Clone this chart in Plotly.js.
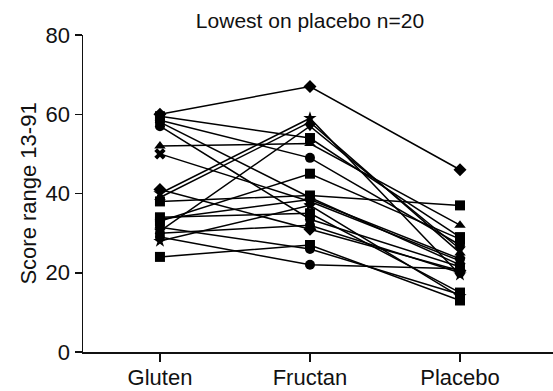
<!DOCTYPE html>
<html>
<head>
<meta charset="utf-8">
<script src="https://cdn.plot.ly/plotly-3.0.1.min.js"></script>
<style>html,body{margin:0;padding:0;background:#fff;}#chart{width:553px;height:391px;}</style>
</head>
<body>
<div id="chart"></div>
<script>
var categories = ["Gluten", "Fructan", "Placebo"];
var gluten  = [60, 59.5, 58.5, 58, 57, 52, 50, 41, 40, 39, 38, 34, 33.5, 33, 31.5, 30.5, 30, 29, 28, 24];
var fructan = [67, 54, 49, 39, 33.5, 52.6, 38, 31, 59, 58, 39.5, 35, 38.5, 45, 26, 57, 32, 22, 37, 27];
var placebo = [46, 29, 27, 22, 21.5, 32, 23, 20.5, 19.5, 25, 37, 15, 23.5, 28.5, 14.5, 26, 20, 21, 14, 13];
var symbols = ["diamond", "square", "circle", "circle", "circle", "triangle-up", "x", "diamond", "star", "triangle-up",
               "square", "square", "circle", "square", "circle", "triangle-down", "circle", "circle", "star", "square"];
var yTicks = [0, 20, 40, 60, 80];

var traces = gluten.map(function (g, i) {
  return {
    type: "scatter",
    mode: "lines+markers",
    x: categories,
    y: [g, fructan[i], placebo[i]],
    line: {color: "#000", width: 1.5},
    marker: {symbol: symbols[i], size: 10, color: "#000"},
    showlegend: false,
    hoverinfo: "y"
  };
});

var layout = {
  width: 553, height: 391,
  margin: {l: 83, r: 0, t: 35, b: 39},
  paper_bgcolor: "#fff", plot_bgcolor: "#fff",
  font: {family: "Liberation Sans, Arial, sans-serif", color: "#111"},
  title: {text: "Lowest on placebo n=20", font: {size: 21, color: "#111"},
          x: 310/553, xanchor: "center", xref: "container", y: 1 - 28/391, yanchor: "bottom", yref: "container"},
  xaxis: {
    type: "category", range: [-0.513, 2.62],
    showgrid: false, zeroline: false,
    showline: true, linecolor: "#111", linewidth: 1.5,
    ticks: "outside", ticklen: 8, tickwidth: 1.5, tickcolor: "#111",
    ticklabelstandoff: -3,
    tickfont: {size: 22, color: "#111"}
  },
  yaxis: {
    range: [0, 80], tickvals: yTicks,
    showgrid: false, zeroline: false,
    showline: true, linecolor: "#111", linewidth: 1.5,
    ticks: "outside", ticklen: 7, tickwidth: 1.5, tickcolor: "#111",
    tickfont: {size: 22, color: "#111"},
    title: {text: "Score range 13-91", font: {size: 22, color: "#111"}, standoff: 3}
  }
};

Plotly.newPlot("chart", traces, layout, {displayModeBar: false, staticPlot: true});
</script>
</body>
</html>
